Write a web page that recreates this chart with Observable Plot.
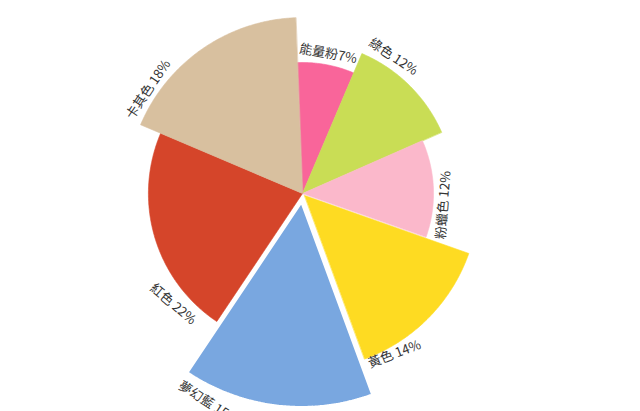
<!DOCTYPE html>
<html>
<head>
<meta charset="utf-8">
<script src="https://cdn.jsdelivr.net/npm/d3@7"></script>
<script src="https://cdn.jsdelivr.net/npm/@observablehq/plot@0.6"></script>
<style>
  html, body { margin: 0; padding: 0; background: #fff; overflow: hidden; }
  #chart svg { display: block; overflow: visible; }
</style>
</head>
<body>
<div id="chart"></div>
<script>
// ---- data ----
const categories = ["能量粉", "綠色", "粉蠟色", "黃色", "夢幻藍", "紅色", "卡其色"];
const shares = [7, 12, 12, 14, 15, 22, 18];            // angle share (%)
const scores = [63.6, 73.8, 63.6, 84.5, 100, 74.8, 85.4]; // radius value
const colors = ["#F9659A", "#C9DD55", "#FBB8CB", "#FEDB22", "#79A7E0", "#D5452A", "#D8C09F"];
const labels = ["能量粉7%", "綠色 12%", "粉蠟色 12%", "黃色 14%", "夢幻藍 15%", "紅色 22%", "卡其色 18%"];

// ---- layout ----
const W = 640, H = 411;
const cx = 302, cy = 193, k = 2.06;       // centre pixel, px per unit
const startAngle = -2.2;                  // degrees clockwise from north
const explodePx = {"黃色": 3, "夢幻藍": 8};
const labelPlace = {                       // [fraction along slice, anchor, gap px]
  "能量粉": [0.5, "middle", 11],
  "綠色": [0.245, "middle", 12],
  "粉蠟色": [0.66, "middle", 10.5],
  "黃色": [0.98, "start", 6],
  "夢幻藍": [0.98, "start", 13],
  "紅色": [0.08, "end", 14],
  "卡其色": [0.17, "middle", 10]
};

const total = d3.sum(shares);
const rad = a => a * Math.PI / 180;
let acc = startAngle;
const slices = categories.map((name, i) => {
  const a0 = acc, a1 = acc + shares[i] / total * 360;
  acc = a1;
  return {name, share: shares[i], score: scores[i], color: colors[i], label: labels[i], a0, a1,
          ex: (explodePx[name] || 0) / k};
});

// polygon points for each sector
const pts = [];
const order = ["能量粉", "綠色", "粉蠟色", "黃色", "紅色", "卡其色", "夢幻藍"];
for (const s of order.map(n => slices.find(d => d.name === n))) {
  const mid = rad((s.a0 + s.a1) / 2);
  const ox = s.ex * Math.sin(mid), oy = s.ex * Math.cos(mid);
  pts.push({name: s.name, x: ox, y: oy});
  const n = Math.ceil((s.a1 - s.a0) * 2);
  for (let j = 0; j <= n; j++) {
    const a = rad(s.a0 + (s.a1 - s.a0) * j / n);
    pts.push({name: s.name, x: ox + s.score * Math.sin(a), y: oy + s.score * Math.cos(a)});
  }
}

// labels
const labelData = slices.map(s => {
  const [f, anchor, gap] = labelPlace[s.name];
  const a = s.a0 + (s.a1 - s.a0) * f;
  const r = s.score + s.ex + gap / k;
  let norm = ((a % 360) + 360) % 360;
  const rot = (norm > 90 && norm < 270) ? norm - 180 : (norm >= 270 ? norm - 360 : norm);
  return {label: s.label, anchor, x: r * Math.sin(rad(a)), y: r * Math.cos(rad(a)), rot};
});

const font = "'Noto Sans CJK TC', 'Noto Sans CJK SC', 'Noto Sans', sans-serif";
const textMark = anchor => Plot.text(labelData.filter(d => d.anchor === anchor), {
  x: "x", y: "y", text: "label", rotate: "rot", textAnchor: anchor,
  lineAnchor: "middle", fontSize: 13, fill: "#333", fontFamily: font
});

const plot = Plot.plot({
  width: W, height: H,
  margin: 0,
  x: {domain: [-cx / k, (W - cx) / k], range: [0, W], axis: null},
  y: {domain: [-(H - cy) / k, cy / k], range: [H, 0], axis: null},
  color: {domain: categories, range: colors},
  style: {background: "#fff", fontFamily: font, overflow: "visible"},
  marks: [
    Plot.line(pts.filter(d => d.name !== "夢幻藍"), {
      x: "x", y: "y", z: "name", fill: "name", stroke: "name", strokeWidth: 0.6,
      curve: "linear-closed"
    }),
    Plot.line(pts.filter(d => d.name === "夢幻藍"), {
      x: "x", y: "y", z: "name", fill: "name", stroke: "#fff", strokeWidth: 3,
      strokeLinejoin: "miter", curve: "linear-closed"
    }),
    textMark("middle"),
    textMark("start"),
    textMark("end")
  ]
});
document.getElementById("chart").appendChild(plot);
</script>
</body>
</html>
